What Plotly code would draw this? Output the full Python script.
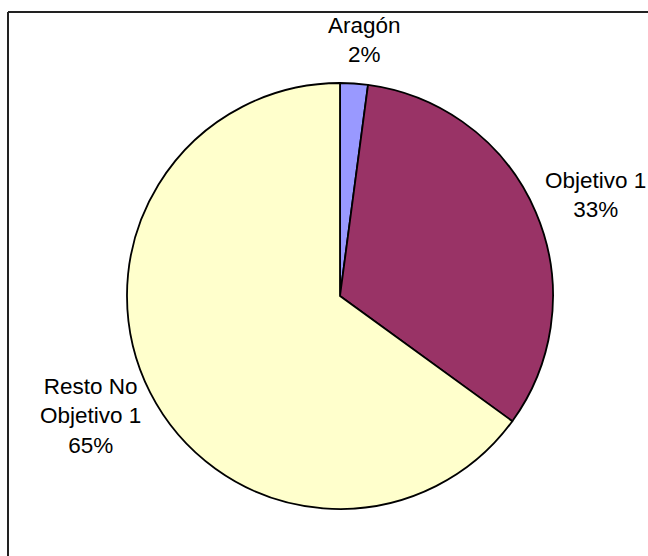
import plotly.graph_objects as go

W, H = 648, 556

labels = ["Aragón", "Objetivo 1", "Resto No Objetivo 1"]
label_lines = ["Aragón", "Objetivo 1", "Resto No<br>Objetivo 1"]
values = [2.1, 32.9, 65.0]
pct_text = ["2%", "33%", "65%"]
colors = ["#9999FF", "#993366", "#FFFFCC"]

# label centres in pixels (x, y from top)
label_pos = [(364, 40), (595, 195), (90, 416)]

fig = go.Figure()
fig.add_trace(go.Pie(
    labels=labels,
    values=values,
    sort=False,
    direction="clockwise",
    rotation=0,
    textinfo="none",
    hoverinfo="label+percent",
    marker=dict(colors=colors, line=dict(color="#000000", width=1.8)),
    domain=dict(x=[127 / W, 553 / W], y=[1 - 509 / H, 1 - 83 / H]),
    showlegend=False,
))

for lab, pct, (px, py) in zip(label_lines, pct_text, label_pos):
    fig.add_annotation(
        x=px / W, y=1 - py / H, xref="paper", yref="paper",
        text=f"{lab}<br>{pct}", showarrow=False, align="center",
        xanchor="center", yanchor="middle",
        font=dict(family="Liberation Sans, Arial, sans-serif", size=22.5, color="#000000"),
    )

# chart frame (top and left edges visible)
fig.add_shape(type="line", xref="paper", yref="paper",
              x0=8 / W, y0=1 - 12 / H, x1=1.0, y1=1 - 12 / H,
              line=dict(color="#222222", width=2))
fig.add_shape(type="line", xref="paper", yref="paper",
              x0=8 / W, y0=1 - 12 / H, x1=8 / W, y1=0,
              line=dict(color="#222222", width=2))

fig.update_layout(
    width=W, height=H,
    margin=dict(l=0, r=0, t=0, b=0),
    paper_bgcolor="#FFFFFF",
    plot_bgcolor="#FFFFFF",
)

fig.write_html("out.html", config={"displayModeBar": False},
               post_script="document.body.style.margin='0';")
